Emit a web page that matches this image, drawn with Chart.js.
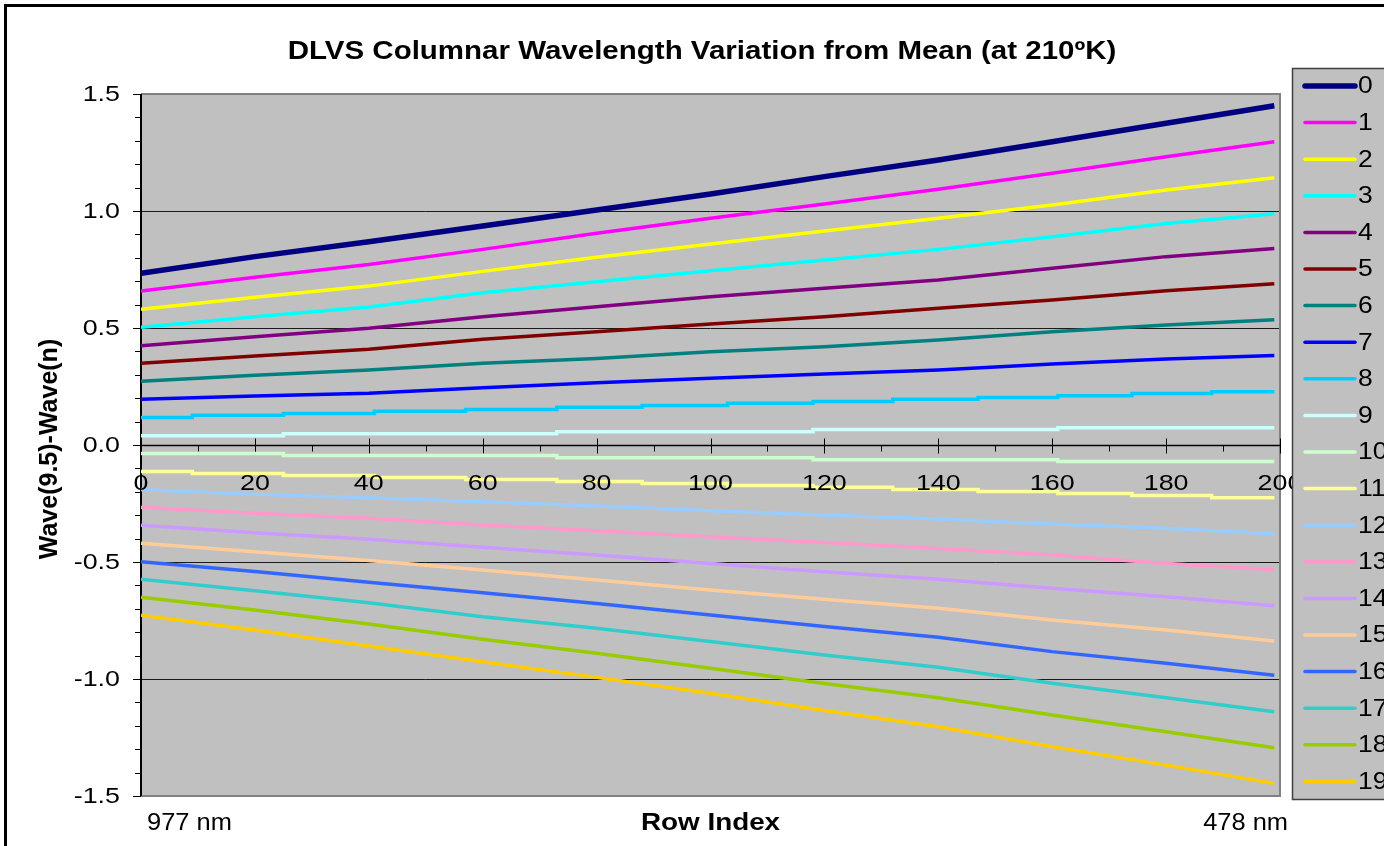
<!DOCTYPE html>
<html>
<head>
<meta charset="utf-8">
<title>DLVS Columnar Wavelength Variation</title>
<script src="https://cdn.jsdelivr.net/npm/chart.js@4.4.1/dist/chart.umd.min.js"></script>
<style>
  html, body { margin: 0; padding: 0; background: #ffffff; }
  #chart { display: block; }
</style>
</head>
<body>
<canvas id="chart" width="1384" height="846"></canvas>
<script>
// ---- text ----
const chartTitle = 'DLVS Columnar Wavelength Variation from Mean (at 210ºK)';
const yAxisTitle = 'Wave(9.5)-Wave(n)';
const xAxisTitle = 'Row Index';
const xStartNote = '977 nm';
const xEndNote = '478 nm';

// ---- series ----
const columnNames = ['0', '1', '2', '3', '4', '5', '6', '7', '8', '9',
                     '10', '11', '12', '13', '14', '15', '16', '17', '18', '19'];
const columnColors = ['#000080', '#FF00FF', '#FFFF00', '#00FFFF', '#800080',
                      '#800000', '#008080', '#0000FF', '#00CCFF', '#CCFFFF',
                      '#CCFFCC', '#FFFF99', '#99CCFF', '#FF99CC', '#CC99FF',
                      '#FFCC99', '#3366FF', '#33CCCC', '#99CC00', '#FFCC00'];

// rows at which the smoothly drifting columns are sampled
const sampleRows = [0, 20, 40, 60, 80, 100, 120, 140, 160, 180, 199];
const col0  = [0.734, 0.805, 0.869, 0.936, 1.004, 1.073, 1.147, 1.218, 1.296, 1.375, 1.450];
const col1  = [0.658, 0.717, 0.771, 0.836, 0.905, 0.969, 1.030, 1.093, 1.161, 1.232, 1.296];
const col2  = [0.580, 0.631, 0.679, 0.742, 0.802, 0.859, 0.915, 0.969, 1.026, 1.090, 1.142];
const col3  = [0.503, 0.548, 0.590, 0.651, 0.698, 0.745, 0.791, 0.836, 0.890, 0.947, 0.988];
const col4  = [0.424, 0.463, 0.499, 0.548, 0.591, 0.634, 0.670, 0.705, 0.755, 0.805, 0.840];
const col5  = [0.349, 0.380, 0.409, 0.452, 0.484, 0.517, 0.548, 0.584, 0.620, 0.659, 0.689];
const col6  = [0.272, 0.298, 0.321, 0.349, 0.370, 0.399, 0.420, 0.449, 0.484, 0.513, 0.535];
const col7  = [0.195, 0.209, 0.221, 0.245, 0.266, 0.285, 0.303, 0.321, 0.346, 0.368, 0.382];
const col12 = [-0.190, -0.211, -0.225, -0.242, -0.261, -0.281, -0.299, -0.316, -0.338, -0.356, -0.379];
const col13 = [-0.266, -0.292, -0.313, -0.342, -0.366, -0.392, -0.417, -0.442, -0.470, -0.506, -0.533];
const col14 = [-0.343, -0.375, -0.403, -0.437, -0.470, -0.506, -0.542, -0.574, -0.612, -0.648, -0.687];
const col15 = [-0.420, -0.456, -0.494, -0.534, -0.577, -0.620, -0.659, -0.698, -0.748, -0.791, -0.838];
const col16 = [-0.499, -0.541, -0.587, -0.631, -0.677, -0.726, -0.776, -0.822, -0.883, -0.933, -0.984];
const col17 = [-0.574, -0.623, -0.674, -0.734, -0.783, -0.840, -0.897, -0.950, -1.018, -1.080, -1.140];
const col18 = [-0.651, -0.705, -0.765, -0.830, -0.890, -0.954, -1.019, -1.080, -1.154, -1.225, -1.294];
const col19 = [-0.728, -0.791, -0.859, -0.926, -0.993, -1.061, -1.135, -1.204, -1.289, -1.368, -1.446];

// columns near the centre move in a few discrete steps: rows where each new level starts
const stepRowsOuter = [0, 9, 25, 41, 57, 73, 88, 103, 118, 132, 147, 161, 174, 188, 199];
const col8  = [0.118, 0.127, 0.135, 0.144, 0.152, 0.161, 0.169, 0.178, 0.186, 0.195, 0.203, 0.211, 0.220, 0.228, 0.228];
const col11 = [-0.113, -0.122, -0.130, -0.139, -0.147, -0.156, -0.164, -0.173, -0.181, -0.190, -0.199, -0.207, -0.216, -0.225, -0.225];
const stepRowsInner = [0, 25, 73, 118, 161, 199];
const col9  = [0.040, 0.048, 0.057, 0.066, 0.074, 0.074];
const col10 = [-0.036, -0.045, -0.054, -0.063, -0.071, -0.071];

// ---- axes ----
const yTickValues = [-1.5, -1.0, -0.5, 0.0, 0.5, 1.0, 1.5];
const xTickValues = [0, 20, 40, 60, 80, 100, 120, 140, 160, 180, 200];

const columns = [
  { rows: sampleRows, values: col0 },  { rows: sampleRows, values: col1 },
  { rows: sampleRows, values: col2 },  { rows: sampleRows, values: col3 },
  { rows: sampleRows, values: col4 },  { rows: sampleRows, values: col5 },
  { rows: sampleRows, values: col6 },  { rows: sampleRows, values: col7 },
  { rows: stepRowsOuter, values: col8, stepped: true },
  { rows: stepRowsInner, values: col9, stepped: true },
  { rows: stepRowsInner, values: col10, stepped: true },
  { rows: stepRowsOuter, values: col11, stepped: true },
  { rows: sampleRows, values: col12 }, { rows: sampleRows, values: col13 },
  { rows: sampleRows, values: col14 }, { rows: sampleRows, values: col15 },
  { rows: sampleRows, values: col16 }, { rows: sampleRows, values: col17 },
  { rows: sampleRows, values: col18 }, { rows: sampleRows, values: col19 }
];

const datasets = columns.map((c, i) => ({
  label: columnNames[i],
  data: c.rows.map((r, k) => ({ x: r, y: c.values[k] })),
  borderColor: columnColors[i],
  backgroundColor: columnColors[i],
  borderWidth: i === 0 ? 5.5 : 3.5,
  stepped: c.stepped ? 'before' : false,
  pointRadius: 0,
  fill: false,
  tension: 0
}));

const FONT = "'Liberation Sans', Arial, sans-serif";

// text helper: glyphs may be widened horizontally with sx
function drawText(ctx, text, x, y, opts) {
  ctx.save();
  ctx.font = (opts.bold ? 'bold ' : '') + opts.size + 'px ' + FONT;
  ctx.fillStyle = '#000000';
  ctx.textAlign = opts.align || 'center';
  ctx.textBaseline = 'middle';
  ctx.translate(x, y);
  if (opts.rotate) ctx.rotate(opts.rotate);
  ctx.scale(opts.sx || 1, 1);
  ctx.fillText(text, 0, 0);
  ctx.restore();
}

const TICK_TEXT = { size: 22, sx: 1.22 };

const frame = {
  id: 'frame',
  beforeDraw(chart) {
    const { ctx, chartArea: a } = chart;
    ctx.save();
    ctx.fillStyle = '#ffffff';
    ctx.fillRect(0, 0, chart.width, chart.height);
    ctx.fillStyle = '#C0C0C0';
    ctx.fillRect(a.left, a.top, a.right - a.left, a.bottom - a.top);
    // outer chart border
    ctx.strokeStyle = '#000000';
    ctx.lineWidth = 3;
    ctx.strokeRect(5.5, 5.5, chart.width + 40, chart.height + 40);
    ctx.restore();
  },
  beforeDatasetsDraw(chart) {
    const { ctx, chartArea: a, scales } = chart;
    const ys = scales.y, xs = scales.x;
    ctx.save();
    // horizontal gridlines
    ctx.strokeStyle = '#1a1a1a';
    ctx.lineWidth = 1;
    ys.ticks.forEach(t => {
      if (t.value === 0 || Math.abs(t.value) === 1.5) return;
      const py = Math.round(ys.getPixelForValue(t.value)) + 0.5;
      ctx.beginPath(); ctx.moveTo(a.left, py); ctx.lineTo(a.right, py); ctx.stroke();
    });
    // plot border
    ctx.strokeStyle = '#808080';
    ctx.lineWidth = 2;
    ctx.beginPath();
    ctx.moveTo(a.left, a.top); ctx.lineTo(a.right, a.top);
    ctx.lineTo(a.right, a.bottom); ctx.lineTo(a.left, a.bottom);
    ctx.stroke();
    // value axis with major and minor tick marks
    ctx.strokeStyle = '#000000';
    ctx.lineWidth = 2;
    ctx.beginPath(); ctx.moveTo(a.left, a.top); ctx.lineTo(a.left, a.bottom); ctx.stroke();
    ctx.lineWidth = 1;
    for (let k = -15; k <= 15; k++) {
      const py = Math.round(ys.getPixelForValue(k / 10)) + 0.5;
      const len = (k % 5 === 0) ? 8 : 6;
      ctx.beginPath(); ctx.moveTo(a.left - len, py); ctx.lineTo(a.left, py); ctx.stroke();
    }
    // row axis crossing at zero
    const y0 = Math.round(ys.getPixelForValue(0)) + 0.5;
    ctx.lineWidth = 1.5;
    ctx.beginPath(); ctx.moveTo(a.left, y0); ctx.lineTo(a.right, y0); ctx.stroke();
    ctx.lineWidth = 1;
    for (let r = 0; r <= 200; r += 10) {
      const px = Math.round(xs.getPixelForValue(r)) + 0.5;
      ctx.beginPath();
      if (r % 20 === 0) { ctx.moveTo(px, y0 - 7); ctx.lineTo(px, y0 + 8); }
      else { ctx.moveTo(px, y0); ctx.lineTo(px, y0 + 6); }
      ctx.stroke();
    }
    ctx.restore();
  },
  afterDatasetsDraw(chart) {
    const { ctx, chartArea: a, scales } = chart;
    const ys = scales.y, xs = scales.x;
    // tick labels from the scales' own ticks
    ys.ticks.forEach(t => {
      drawText(ctx, Number(t.value).toFixed(1), a.left - 21, ys.getPixelForValue(t.value) + 0.5,
               { size: TICK_TEXT.size, sx: TICK_TEXT.sx, align: 'right' });
    });
    const labelY = ys.getPixelForValue(0) + 38.5;
    xs.ticks.forEach(t => {
      drawText(ctx, String(t.value), xs.getPixelForValue(t.value), labelY,
               { size: TICK_TEXT.size, sx: TICK_TEXT.sx });
    });
  },
  afterDraw(chart) {
    const { ctx, chartArea: a } = chart;
    // legend panel
    ctx.save();
    ctx.fillStyle = '#C0C0C0';
    ctx.fillRect(1292, 68, 120, 732);
    ctx.strokeStyle = '#404040';
    ctx.lineWidth = 1.5;
    ctx.strokeRect(1292.5, 68.5, 120, 731);
    chart.data.datasets.forEach((ds, i) => {
      const py = 86 + i * 36.6;
      ctx.strokeStyle = ds.borderColor;
      ctx.lineWidth = i === 0 ? 5.5 : 3.5;
      ctx.lineCap = 'round';
      ctx.beginPath(); ctx.moveTo(1305, py); ctx.lineTo(1355, py); ctx.stroke();
      drawText(ctx, ds.label, 1358, py + 1, { size: 23, sx: 1.15, align: 'left' });
    });
    ctx.restore();
    // titles and notes
    drawText(ctx, chartTitle, 702, 52, { size: 25, bold: true, sx: 1.18 });
    drawText(ctx, yAxisTitle, 50, 449, { size: 25, bold: true, rotate: -Math.PI / 2 });
    drawText(ctx, xStartNote, 147, 823, { size: 24, sx: 1.06, align: 'left' });
    drawText(ctx, xAxisTitle, (a.left + a.right) / 2, 823, { size: 24, bold: true, sx: 1.16 });
    drawText(ctx, xEndNote, 1288, 823, { size: 24, sx: 1.06, align: 'right' });
  }
};

new Chart(document.getElementById('chart'), {
  type: 'line',
  data: { datasets },
  options: {
    responsive: false,
    animation: false,
    devicePixelRatio: 1,
    layout: { padding: { left: 0, right: 104, top: 94, bottom: 50 } },
    plugins: {
      legend: { display: false },
      title: { display: false },
      tooltip: { enabled: false }
    },
    elements: {
      point: { radius: 0 },
      line: { borderCapStyle: 'butt', borderJoinStyle: 'miter' }
    },
    scales: {
      x: {
        type: 'linear',
        min: 0, max: 200,
        position: { y: 0 },
        afterBuildTicks: s => { s.ticks = xTickValues.map(v => ({ value: v })); },
        ticks: { display: false },
        grid: { display: false, drawTicks: false },
        border: { display: false }
      },
      y: {
        type: 'linear',
        min: -1.5, max: 1.5,
        afterBuildTicks: s => { s.ticks = yTickValues.map(v => ({ value: v })); },
        afterFit: s => { s.width = 141; },
        ticks: { display: false },
        grid: { display: false, drawTicks: false },
        border: { display: false }
      }
    }
  },
  plugins: [frame]
});
</script>
</body>
</html>
